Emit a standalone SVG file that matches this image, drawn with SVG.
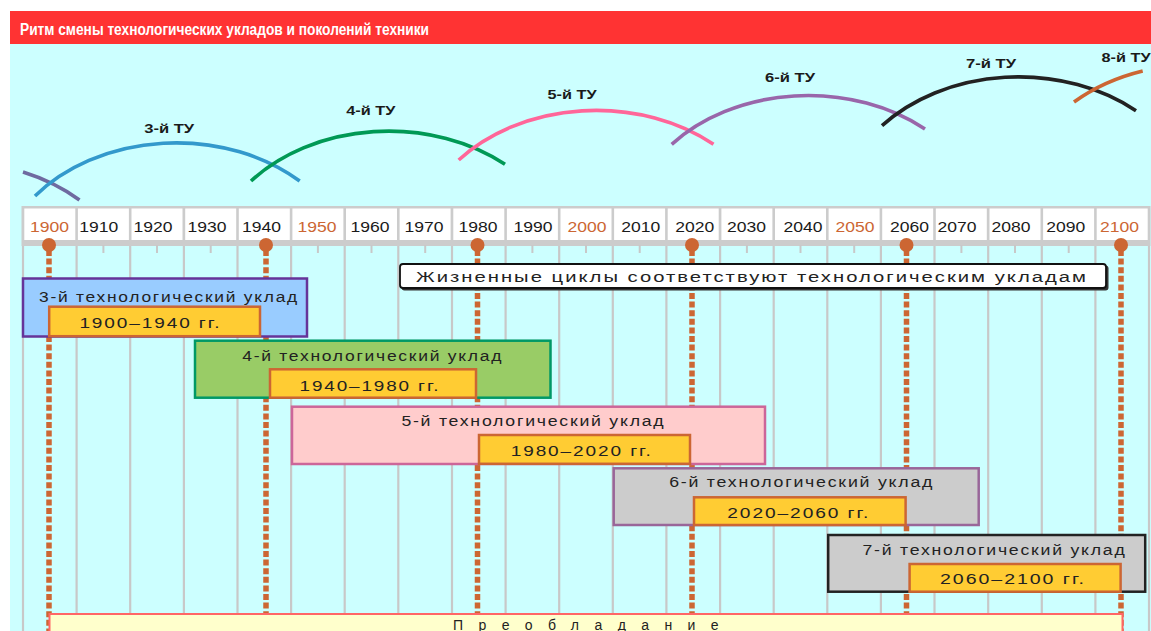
<svg xmlns="http://www.w3.org/2000/svg" width="1151" height="631" viewBox="0 0 1151 631">
<style>
  .t{font-family:"Liberation Sans",Arial,sans-serif;font-size:14px;fill:#222222;letter-spacing:1.4px}
  .yr{font-family:"Liberation Sans",Arial,sans-serif;font-size:14px;fill:#1a1a1a;text-anchor:middle}
  .yo{fill:#cc6633}
  .tu{font-family:"Liberation Sans",Arial,sans-serif;font-size:13px;font-weight:bold;fill:#1a1a1a;text-anchor:middle}
  .arc{fill:none;stroke-width:3.6;stroke-linecap:butt}
  .cell{fill:#ffffff}
  .tick{stroke:#c8c8c8;stroke-width:2}
  .grid{stroke:#c8c8c8;stroke-width:2.2}
  .dot{stroke:#cc6633;stroke-width:5.5;stroke-dasharray:6 2.6;fill:none}
  .pin{fill:#cc6633}
  .yel{fill:#ffcc33;stroke:#cc6633;stroke-width:2.5}
  .mid{text-anchor:middle}
</style>
<rect x="0" y="0" width="1151" height="631" fill="#ffffff"/>
<rect x="10" y="44" width="1141" height="587" fill="#ccffff"/>
<g id="header">
  <rect x="10" y="11" width="1141" height="33" fill="#ff3333"/>
  <text x="20" y="35" font-family="'Liberation Sans',Arial,sans-serif" font-size="16" font-weight="bold" fill="#ffffff" textLength="409" lengthAdjust="spacingAndGlyphs">Ритм смены технологических укладов и поколений техники</text>
</g>
<g id="arcs">
  <path class="arc" stroke="#6f6aa0" d="M23,172 A180 140 0 0 1 79.5,200"/>
  <path class="arc" stroke="#3399cc" d="M35,196 A180 140 0 0 1 299.7,181"/>
  <path class="arc" stroke="#009955" d="M251,181 A180 140 0 0 1 505,164.3"/>
  <path class="arc" stroke="#ff6699" d="M458.7,160 A180 140 0 0 1 713.5,144.3"/>
  <path class="arc" stroke="#9966aa" d="M671.7,144.3 A180 140 0 0 1 925,129"/>
  <path class="arc" stroke="#222222" d="M882,125.7 A180 140 0 0 1 1136,110.7"/>
  <path class="arc" stroke="#cc6633" d="M1074,102 A180 140 0 0 1 1142.7,71"/>
  <text class="tu" x="169.2" y="133" textLength="50" lengthAdjust="spacingAndGlyphs">3-й ТУ</text>
  <text class="tu" x="370.8" y="114.7" textLength="49" lengthAdjust="spacingAndGlyphs">4-й ТУ</text>
  <text class="tu" x="572" y="98.7" textLength="49" lengthAdjust="spacingAndGlyphs">5-й ТУ</text>
  <text class="tu" x="790" y="82.4" textLength="50" lengthAdjust="spacingAndGlyphs">6-й ТУ</text>
  <text class="tu" x="991" y="67.7" textLength="50" lengthAdjust="spacingAndGlyphs">7-й ТУ</text>
  <text class="tu" x="1126" y="61.7" textLength="49" lengthAdjust="spacingAndGlyphs">8-й ТУ</text>
</g>
<g id="grid">
  <line class="grid" x1="23" y1="246" x2="23" y2="631"/>
  <line class="grid" x1="76.6" y1="246" x2="76.6" y2="631"/>
  <line class="grid" x1="130.2" y1="246" x2="130.2" y2="631"/>
  <line class="grid" x1="183.9" y1="246" x2="183.9" y2="631"/>
  <line class="grid" x1="237.5" y1="246" x2="237.5" y2="631"/>
  <line class="grid" x1="291.1" y1="246" x2="291.1" y2="631"/>
  <line class="grid" x1="344.7" y1="246" x2="344.7" y2="631"/>
  <line class="grid" x1="398.3" y1="246" x2="398.3" y2="631"/>
  <line class="grid" x1="452" y1="246" x2="452" y2="631"/>
  <line class="grid" x1="505.6" y1="246" x2="505.6" y2="631"/>
  <line class="grid" x1="559.2" y1="246" x2="559.2" y2="631"/>
  <line class="grid" x1="612.8" y1="246" x2="612.8" y2="631"/>
  <line class="grid" x1="666.4" y1="246" x2="666.4" y2="631"/>
  <line class="grid" x1="720.1" y1="246" x2="720.1" y2="631"/>
  <line class="grid" x1="773.7" y1="246" x2="773.7" y2="631"/>
  <line class="grid" x1="827.3" y1="246" x2="827.3" y2="631"/>
  <line class="grid" x1="880.9" y1="246" x2="880.9" y2="631"/>
  <line class="grid" x1="934.5" y1="246" x2="934.5" y2="631"/>
  <line class="grid" x1="988.2" y1="246" x2="988.2" y2="631"/>
  <line class="grid" x1="1041.8" y1="246" x2="1041.8" y2="631"/>
  <line class="grid" x1="1095.4" y1="246" x2="1095.4" y2="631"/>
  <line class="grid" x1="1149" y1="246" x2="1149" y2="631"/>
</g>
<g id="timeline">
  <rect x="21.5" y="206" width="1129" height="40" fill="#cccccc"/>
  <rect class="cell" x="24.3" y="208.5" width="51" height="31.5"/>
  <rect class="cell" x="77.9" y="208.5" width="51" height="31.5"/>
  <rect class="cell" x="131.5" y="208.5" width="51" height="31.5"/>
  <rect class="cell" x="185.2" y="208.5" width="51" height="31.5"/>
  <rect class="cell" x="238.8" y="208.5" width="51" height="31.5"/>
  <rect class="cell" x="292.4" y="208.5" width="51" height="31.5"/>
  <rect class="cell" x="346" y="208.5" width="51" height="31.5"/>
  <rect class="cell" x="399.6" y="208.5" width="51" height="31.5"/>
  <rect class="cell" x="453.3" y="208.5" width="51" height="31.5"/>
  <rect class="cell" x="506.9" y="208.5" width="51" height="31.5"/>
  <rect class="cell" x="560.5" y="208.5" width="51" height="31.5"/>
  <rect class="cell" x="614.1" y="208.5" width="51" height="31.5"/>
  <rect class="cell" x="667.7" y="208.5" width="51" height="31.5"/>
  <rect class="cell" x="721.4" y="208.5" width="51" height="31.5"/>
  <rect class="cell" x="775" y="208.5" width="51" height="31.5"/>
  <rect class="cell" x="828.6" y="208.5" width="51" height="31.5"/>
  <rect class="cell" x="882.2" y="208.5" width="51" height="31.5"/>
  <rect class="cell" x="935.8" y="208.5" width="51" height="31.5"/>
  <rect class="cell" x="989.5" y="208.5" width="51" height="31.5"/>
  <rect class="cell" x="1043.1" y="208.5" width="51" height="31.5"/>
  <rect class="cell" x="1096.7" y="208.5" width="51" height="31.5"/>
  <text class="yr yo" x="49.6" y="232" textLength="39" lengthAdjust="spacingAndGlyphs">1900</text>
  <text class="yr" x="98.8" y="232" textLength="39" lengthAdjust="spacingAndGlyphs">1910</text>
  <text class="yr" x="153" y="232" textLength="39" lengthAdjust="spacingAndGlyphs">1920</text>
  <text class="yr" x="207" y="232" textLength="39" lengthAdjust="spacingAndGlyphs">1930</text>
  <text class="yr" x="261.6" y="232" textLength="39" lengthAdjust="spacingAndGlyphs">1940</text>
  <text class="yr yo" x="317" y="232" textLength="39" lengthAdjust="spacingAndGlyphs">1950</text>
  <text class="yr" x="370" y="232" textLength="39" lengthAdjust="spacingAndGlyphs">1960</text>
  <text class="yr" x="424" y="232" textLength="39" lengthAdjust="spacingAndGlyphs">1970</text>
  <text class="yr" x="478" y="232" textLength="39" lengthAdjust="spacingAndGlyphs">1980</text>
  <text class="yr" x="533" y="232" textLength="39" lengthAdjust="spacingAndGlyphs">1990</text>
  <text class="yr yo" x="587" y="232" textLength="39" lengthAdjust="spacingAndGlyphs">2000</text>
  <text class="yr" x="640.7" y="232" textLength="39" lengthAdjust="spacingAndGlyphs">2010</text>
  <text class="yr" x="694.8" y="232" textLength="39" lengthAdjust="spacingAndGlyphs">2020</text>
  <text class="yr" x="746.5" y="232" textLength="39" lengthAdjust="spacingAndGlyphs">2030</text>
  <text class="yr" x="803" y="232" textLength="39" lengthAdjust="spacingAndGlyphs">2040</text>
  <text class="yr yo" x="855" y="232" textLength="39" lengthAdjust="spacingAndGlyphs">2050</text>
  <text class="yr" x="909.6" y="232" textLength="39" lengthAdjust="spacingAndGlyphs">2060</text>
  <text class="yr" x="957" y="232" textLength="39" lengthAdjust="spacingAndGlyphs">2070</text>
  <text class="yr" x="1011" y="232" textLength="39" lengthAdjust="spacingAndGlyphs">2080</text>
  <text class="yr" x="1065.7" y="232" textLength="39" lengthAdjust="spacingAndGlyphs">2090</text>
  <text class="yr yo" x="1119.4" y="232" textLength="39" lengthAdjust="spacingAndGlyphs">2100</text>
  <line class="tick" x1="103.4" y1="245" x2="103.4" y2="253"/>
  <line class="tick" x1="157" y1="245" x2="157" y2="253"/>
  <line class="tick" x1="210.7" y1="245" x2="210.7" y2="253"/>
  <line class="tick" x1="317.9" y1="245" x2="317.9" y2="253"/>
  <line class="tick" x1="371.5" y1="245" x2="371.5" y2="253"/>
  <line class="tick" x1="425.2" y1="245" x2="425.2" y2="253"/>
  <line class="tick" x1="532.4" y1="245" x2="532.4" y2="253"/>
  <line class="tick" x1="586" y1="245" x2="586" y2="253"/>
  <line class="tick" x1="639.7" y1="245" x2="639.7" y2="253"/>
  <line class="tick" x1="746.9" y1="245" x2="746.9" y2="253"/>
  <line class="tick" x1="800.5" y1="245" x2="800.5" y2="253"/>
  <line class="tick" x1="854.2" y1="245" x2="854.2" y2="253"/>
  <line class="tick" x1="961.4" y1="245" x2="961.4" y2="253"/>
  <line class="tick" x1="1015" y1="245" x2="1015" y2="253"/>
  <line class="tick" x1="1068.7" y1="245" x2="1068.7" y2="253"/>
</g>
<g id="connectors">
  <line class="dot" x1="49" y1="250" x2="49" y2="631"/>
  <line class="dot" x1="266" y1="250" x2="266" y2="631"/>
  <line class="dot" x1="477.5" y1="250" x2="477.5" y2="631"/>
  <line class="dot" x1="692" y1="250" x2="692" y2="631"/>
  <line class="dot" x1="906.5" y1="250" x2="906.5" y2="631"/>
  <line class="dot" x1="1121" y1="250" x2="1121" y2="631"/>
  <circle class="pin" cx="49" cy="245" r="7"/>
  <circle class="pin" cx="266" cy="245" r="7"/>
  <circle class="pin" cx="477.5" cy="245" r="7"/>
  <circle class="pin" cx="692" cy="245" r="7"/>
  <circle class="pin" cx="906.5" cy="245" r="7"/>
  <circle class="pin" cx="1121" cy="245" r="7"/>
</g>
<g id="lifecycles">
  <rect x="401.5" y="265.5" width="707" height="25" rx="3" fill="#333333"/>
  <rect x="400" y="264" width="706" height="24" rx="3" fill="#ffffff" stroke="#111111" stroke-width="1.8"/>
  <text class="t mid" x="752" y="281.5" textLength="672" lengthAdjust="spacingAndGlyphs">Жизненные циклы соответствуют технологическим укладам</text>
</g>
<g id="tu3">
  <rect x="23" y="278.5" width="284" height="58" fill="#99ccff" stroke="#663399" stroke-width="2.5"/>
  <text class="t mid" x="169" y="301.5" textLength="260" lengthAdjust="spacingAndGlyphs">3-й технологический уклад</text>
  <rect class="yel" x="49.2" y="306.7" width="210.8" height="29.5"/>
  <text class="t mid" x="150.4" y="328" textLength="142" lengthAdjust="spacingAndGlyphs">1900–1940 гг.</text>
</g>
<g id="tu4">
  <rect x="195" y="340.7" width="355.5" height="57" fill="#99cc66" stroke="#009966" stroke-width="2.5"/>
  <text class="t mid" x="372.7" y="361" textLength="261" lengthAdjust="spacingAndGlyphs">4-й технологический уклад</text>
  <rect class="yel" x="270" y="369.3" width="206" height="28.4"/>
  <text class="t mid" x="370" y="391" textLength="141" lengthAdjust="spacingAndGlyphs">1940–1980 гг.</text>
</g>
<g id="tu5">
  <rect x="292" y="406.7" width="473" height="57.3" fill="#ffcccc" stroke="#cc6699" stroke-width="2.5"/>
  <text class="t mid" x="533.4" y="425.7" textLength="264" lengthAdjust="spacingAndGlyphs">5-й технологический уклад</text>
  <rect class="yel" x="479" y="435" width="211" height="28.8"/>
  <text class="t mid" x="581.7" y="455.7" textLength="142" lengthAdjust="spacingAndGlyphs">1980–2020 гг.</text>
</g>
<g id="tu6">
  <rect x="613.7" y="468.3" width="365" height="56.7" fill="#cccccc" stroke="#996699" stroke-width="2.5"/>
  <text class="t mid" x="801.7" y="486.7" textLength="265" lengthAdjust="spacingAndGlyphs">6-й технологический уклад</text>
  <rect class="yel" x="694" y="497.3" width="211.6" height="27.7"/>
  <text class="t mid" x="798.8" y="518.3" textLength="143" lengthAdjust="spacingAndGlyphs">2020–2060 гг.</text>
</g>
<g id="tu7">
  <rect x="828.2" y="535" width="317" height="56.7" fill="#cccccc" stroke="#222222" stroke-width="2.5"/>
  <text class="t mid" x="994.5" y="555" textLength="264" lengthAdjust="spacingAndGlyphs">7-й технологический уклад</text>
  <rect class="yel" x="909.6" y="564" width="211" height="27.7"/>
  <text class="t mid" x="1013" y="584.3" textLength="146" lengthAdjust="spacingAndGlyphs">2060–2100 гг.</text>
</g>
<g id="predominance">
  <rect x="49.5" y="614" width="1073" height="30" fill="#ffffcc" stroke="#ff6666" stroke-width="2"/>
  <text class="t mid" x="586.5" y="629.5" font-size="14" textLength="267" lengthAdjust="spacing">Преобладание</text>
</g>
</svg>
